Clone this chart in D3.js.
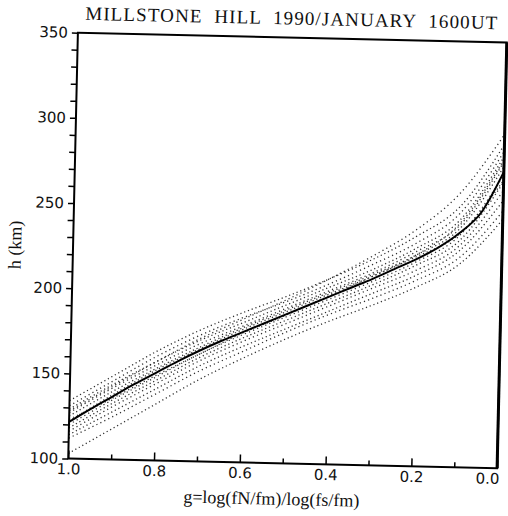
<!DOCTYPE html>
<html>
<head>
<meta charset="utf-8">
<script src="https://cdn.jsdelivr.net/npm/d3@7"></script>
<style>
  html, body { margin: 0; padding: 0; background: #fff; }
  svg { display: block; }
</style>
</head>
<body>
<svg id="chart" width="508" height="516"></svg>
<script>
// ---------------- data ----------------
const titleText = "MILLSTONE  HILL  1990/JANUARY  1600UT";
const xLabelText = "g=log(fN/fm)/log(fs/fm)";
const yLabelText = "h (km)";

const xMajorTicks = [1.0, 0.8, 0.6, 0.4, 0.2, 0.0];
const xMinorTicks = [0.9, 0.7, 0.5, 0.3, 0.1];
const yTicks = [100,110,120,130,140,150,160,170,180,190,200,210,220,230,240,250,260,270,280,290,300,310,320,330,340,350];
const yLabelTicks = [100, 150, 200, 250, 300, 350];

// mean profile
const meanG = [1.0,0.95,0.9,0.85,0.8,0.75,0.7,0.65,0.6,0.55,0.5,0.45,0.4,0.35,0.3,0.25,0.2,0.15,0.1,0.05,0.0];
const meanH = [121.5,129.5,137,144.5,151.5,158.5,165,171,176.5,182,187.5,193,198.5,204,209.5,215.5,221.5,228.5,237.5,250,274];

// individual daily profiles (h in km) at g = 1.0, 0.9, ..., 0.0
const profileG = [1.0,0.9,0.8,0.7,0.6,0.5,0.4,0.3,0.2,0.1,0.0];
const day01 = [134,149,164,177,188,198,209,221,235,253,290];
const day02 = [131,146,161,174,185,195,206,218,231,249,286];
const day03 = [129,144,158,171,182,193,204,215,228,245,283];
const day04 = [127,142,156,169,180,191,202,213,226,242,280];
const day05 = [125,140,154,167,179,190,201,212,224,240,277];
const day06 = [120,135,149,163,175,186,197,208,220,236,272];
const day07 = [118,133,147,161,173,184,195,206,218,233,268];
const day08 = [116,131,145,159,171,182,193,204,215,230,263];
const day09 = [114,128,142,156,168,179,190,201,212,227,257];
const day10 = [112,125,139,153,165,177,188,198,209,223,251];
const day11 = [103,118,133,148,161,173,184,194,205,219,246];
const day12 = [128,143,158,172,184,196,209,223,239,261,296];
const day13 = [122,138,153,166,178,189,200,211,223,237,269];
const day14 = [123,136,150,163,176,187,199,211,224,243,281];
const dailyProfiles = [day01,day02,day03,day04,day05,day06,day07,day08,day09,day10,day11,day12,day13,day14];

// ---------------- layout ----------------
const L = 73, R = 502, T = 37.5, B = 463.5;
const rot = 1.3, cx = 288, cy = 250.5;

const svg = d3.select("#chart");
const root = svg.append("g").attr("transform", `rotate(${rot},${cx},${cy})`);

const x = d3.scaleLinear().domain([1, 0]).range([L, R]);
const y = d3.scaleLinear().domain([100, 350]).range([B, T]);

root.append("clipPath").attr("id", "clip")
  .append("rect").attr("x", L).attr("y", T).attr("width", R - L).attr("height", B - T);

// dotted daily profiles
const dayLine = d3.line()
  .x((d, i) => x(profileG[i]))
  .y(d => y(d))
  .curve(d3.curveMonotoneX);

const dots = root.append("g").attr("clip-path", "url(#clip)");
dots.selectAll("path.day")
  .data(dailyProfiles)
  .join("path")
  .attr("class", "day")
  .attr("d", d => dayLine(d))
  .attr("fill", "none")
  .attr("stroke", "#1a1a1a")
  .attr("stroke-width", 1.3)
  .attr("stroke-dasharray", (d, i) => i % 2 ? "1.2 3.2" : "1.2 2.8")
  .attr("opacity", 0.9);

// mean curve
const meanLine = d3.line()
  .x((d, i) => x(meanG[i]))
  .y(d => y(d))
  .curve(d3.curveMonotoneX);

root.append("path")
  .attr("d", meanLine(meanH))
  .attr("fill", "none")
  .attr("stroke", "#000")
  .attr("stroke-width", 2);

// axes
const yAxis = d3.axisLeft(y)
  .tickValues(yTicks)
  .tickSize(6)
  .tickPadding(4)
  .tickFormat(d => yLabelTicks.includes(d) ? d3.format("d")(d) : "");
const gy = root.append("g").attr("transform", `translate(${L},0)`).call(yAxis);
gy.select(".domain").remove();
gy.selectAll(".tick line").attr("stroke", "#000").attr("stroke-width", 1.5);
gy.selectAll(".tick text")
  .attr("font-family", "'DejaVu Sans', sans-serif")
  .attr("font-size", 15)
  .attr("fill", "#111");

const xAxisMajor = d3.axisBottom(x)
  .tickValues(xMajorTicks)
  .tickSizeInner(-8).tickSizeOuter(0)
  .tickPadding(5)
  .tickFormat(d3.format(".1f"));
const gx = root.append("g").attr("transform", `translate(0,${B})`).call(xAxisMajor);
gx.select(".domain").remove();
gx.selectAll(".tick line").attr("stroke", "#000").attr("stroke-width", 1.5);
gx.selectAll(".tick text")
  .attr("font-family", "'DejaVu Sans', sans-serif")
  .attr("font-size", 15)
  .attr("fill", "#111")
  .attr("text-anchor", d => d === 0 ? "end" : "middle")
  .attr("dx", d => d === 0 ? 2 : 0);

const xAxisMinor = d3.axisBottom(x)
  .tickValues(xMinorTicks)
  .tickSizeInner(-5).tickSizeOuter(0)
  .tickFormat("");
const gx2 = root.append("g").attr("transform", `translate(0,${B})`).call(xAxisMinor);
gx2.select(".domain").remove();
gx2.selectAll(".tick line").attr("stroke", "#000").attr("stroke-width", 1.5);

// frame
root.append("rect")
  .attr("x", L).attr("y", T).attr("width", R - L).attr("height", B - T)
  .attr("fill", "none").attr("stroke", "#000").attr("stroke-width", 2);
root.append("line")
  .attr("x1", R).attr("x2", R).attr("y1", T).attr("y2", B)
  .attr("stroke", "#000").attr("stroke-width", 3);

// texts
root.append("text")
  .attr("x", 286).attr("y", 24.5)
  .attr("text-anchor", "middle")
  .attr("font-family", "'Liberation Serif', 'DejaVu Serif', serif")
  .attr("font-size", 19)
  .attr("textLength", 412)
  .attr("lengthAdjust", "spacing")
  .attr("fill", "#111")
  .style("white-space", "pre")
  .text(titleText);

root.append("text")
  .attr("transform", "translate(21,251) rotate(-90)")
  .attr("text-anchor", "middle")
  .attr("font-family", "'Liberation Serif', 'DejaVu Serif', serif")
  .attr("font-size", 18)
  .attr("fill", "#111")
  .text(yLabelText);

root.append("text")
  .attr("x", 277).attr("y", 505)
  .attr("text-anchor", "middle")
  .attr("font-family", "'Liberation Serif', 'DejaVu Serif', serif")
  .attr("font-size", 18)
  .attr("fill", "#111")
  .text(xLabelText);
</script>
</body>
</html>
